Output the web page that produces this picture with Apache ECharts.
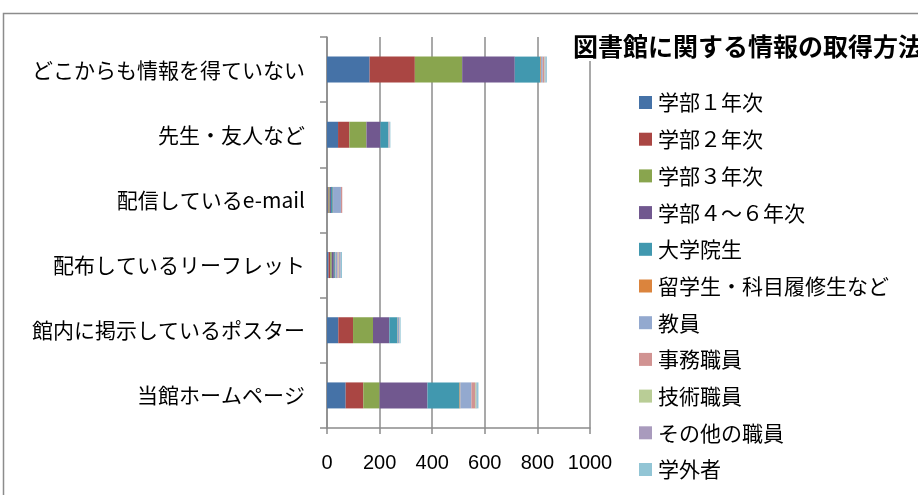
<!DOCTYPE html>
<html><head><meta charset="utf-8">
<script src="https://cdn.jsdelivr.net/npm/echarts@6/dist/echarts.min.js"></script>
<style>html,body{margin:0;padding:0;background:#fff}#c{width:918px;height:495px}</style>
</head><body><div id="c"></div>
<script>
const chartTitle = '図書館に関する情報の取得方法';
const categories = ['どこからも情報を得ていない','先生・友人など','配信しているe-mail','配布しているリーフレット','館内に掲示しているポスター','当館ホームページ'];
const seriesNames = ['学部１年次','学部２年次','学部３年次','学部４～６年次','大学院生','留学生・科目履修生など','教員','事務職員','技術職員','その他の職員','学外者'];
const colors = ['#4572A7','#AA4643','#89A54E','#71588F','#4198AF','#DB843D','#93A9CF','#D19392','#B9CD96','#A99BBD','#92C5D5'];
const gakubu1 = [162, 42, 3, 6, 43, 71];
const gakubu2 = [172, 43, 3, 6, 56, 67];
const gakubu3 = [180, 65, 4, 6, 76, 62];
const gakubu4to6 = [200, 53, 5, 8, 62, 182];
const daigakuin = [97, 30, 7, 4, 31, 122];
const ryugakusei = [3, 1, 1, 2, 1, 3];
const kyoin = [6, 3, 30, 8, 5, 42];
const jimu = [6, 1, 5, 4, 1, 14];
const gijutsu = [2, 0, 0, 2, 1, 3];
const sonota = [3, 1, 0, 6, 1, 3];
const gakugai = [5, 2, 0, 5, 3, 7];
const xTicks = [0, 200, 400, 600, 800, 1000];
const allData = [gakubu1,gakubu2,gakubu3,gakubu4to6,daigakuin,ryugakusei,kyoin,jimu,gijutsu,sonota,gakugai];

const chart = echarts.init(document.getElementById('c'));
chart.setOption({
  animation: false,
  color: colors,
  graphic: [{type:'rect', shape:{x:3.5,y:13.5,width:1000,height:1000}, style:{fill:'none',stroke:'#8c8c8c',lineWidth:1.5}, z:-10}],
  title: {
    text: chartTitle, left: 571, top: 32, padding: [2,0,2,2],
    backgroundColor: '#fff',
    textStyle: {fontFamily:'Noto Sans CJK JP', fontSize: 25, fontWeight: 'bold', color:'#000'}
  },
  legend: {
    orient: 'vertical', left: 634, top: 87, height: 420,
    itemWidth: 13, itemHeight: 13, itemGap: 15.7,
    icon: 'rect',
    data: seriesNames,
    textStyle: {fontFamily:'Noto Sans CJK JP', fontSize: 21, lineHeight: 21, color:'#000', padding:[0,0,0,1]}
  },
  grid: {left: 327, right: 328, top: 37, bottom: 67},
  xAxis: {
    type: 'value', min: xTicks[0], max: xTicks[xTicks.length-1], interval: 200,
    axisLine: {show:true, lineStyle:{color:'#8c8c8c', width:1.5}},
    axisTick: {show:true, length: 6, lineStyle:{color:'#8c8c8c', width:1.5}},
    splitLine: {show:true, lineStyle:{color:'#8c8c8c', width:1.5}},
    axisLabel: {fontFamily:'Liberation Sans', fontSize: 20, color:'#000', margin: 25, formatter: v => String(v)}
  },
  yAxis: {
    type: 'category', data: categories, inverse: true,
    axisLine: {show:true, lineStyle:{color:'#8c8c8c', width:1.5}},
    axisTick: {show:true, length: 7, lineStyle:{color:'#8c8c8c', width:1.5}},
    axisLabel: {fontFamily:'Noto Sans CJK JP', fontSize: 21, color:'#000', margin: 22}
  },
  series: seriesNames.map((n,i)=>({
    name: n, type: 'bar', stack: 'total', barWidth: 26,
    data: allData[i]
  }))
});
</script></body></html>
